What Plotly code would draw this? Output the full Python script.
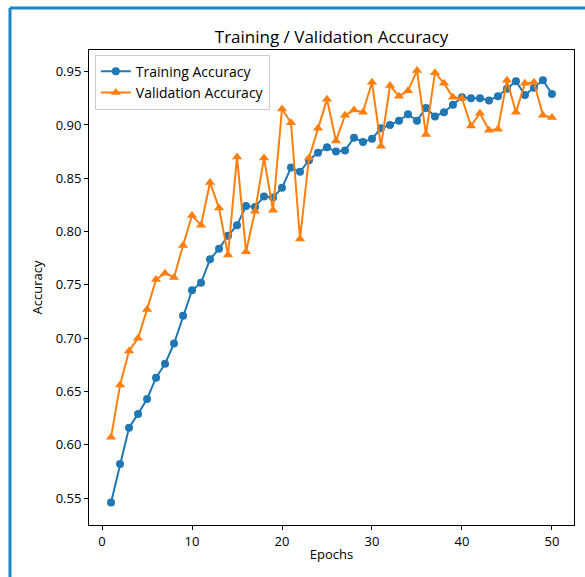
import plotly.graph_objects as go

epochs = list(range(1, 51))
train_acc = [0.546, 0.582, 0.616, 0.629, 0.643, 0.663, 0.676, 0.695, 0.721, 0.745,
             0.752, 0.774, 0.784, 0.796, 0.806, 0.824, 0.823, 0.833, 0.832, 0.841,
             0.860, 0.856, 0.867, 0.874, 0.879, 0.875, 0.876, 0.888, 0.884, 0.887,
             0.897, 0.900, 0.904, 0.910, 0.904, 0.916, 0.908, 0.912, 0.919, 0.926,
             0.925, 0.925, 0.923, 0.927, 0.934, 0.941, 0.928, 0.935, 0.942, 0.929]
val_acc = [0.607, 0.656, 0.688, 0.700, 0.727, 0.755, 0.761, 0.757, 0.787, 0.815,
           0.806, 0.846, 0.822, 0.778, 0.870, 0.781, 0.819, 0.869, 0.820, 0.915,
           0.902, 0.793, 0.869, 0.897, 0.924, 0.885, 0.909, 0.914, 0.912, 0.940,
           0.880, 0.937, 0.927, 0.932, 0.951, 0.891, 0.949, 0.939, 0.926, 0.925,
           0.899, 0.911, 0.895, 0.896, 0.942, 0.912, 0.939, 0.940, 0.909, 0.907]
x_ticks = [0, 10, 20, 30, 40, 50]
y_ticks = [0.55, 0.60, 0.65, 0.70, 0.75, 0.80, 0.85, 0.90, 0.95]

FONT = "Open Sans"

fig = go.Figure()
fig.add_trace(go.Scatter(x=epochs, y=train_acc, mode="lines+markers",
                         name="Training Accuracy",
                         line=dict(color="#1f77b4", width=2),
                         marker=dict(symbol="circle", size=8, color="#1f77b4")))
fig.add_trace(go.Scatter(x=epochs, y=val_acc, mode="lines+markers",
                         name="Validation Accuracy",
                         line=dict(color="#ff7f0e", width=2),
                         marker=dict(symbol="triangle-up", size=9, color="#ff7f0e")))

L, R, T, B = 89, 11, 50, 52
W, H = 585, 577
pw, ph = W - L - R, H - T - B

def px(x):
    return (x - L) / pw

def py(y):
    return (H - B - y) / ph

frame_color = "#1a86c8"
shapes = [
    dict(type="line", xref="paper", yref="paper", x0=px(10), x1=px(10),
         y0=py(8), y1=py(H + 5), line=dict(color=frame_color, width=3)),
    dict(type="line", xref="paper", yref="paper", x0=px(10), x1=px(W + 5),
         y0=py(8), y1=py(8), line=dict(color=frame_color, width=3)),
]

fig.update_layout(
    width=W, height=H,
    margin=dict(l=L, r=R, t=T, b=B),
    paper_bgcolor="white", plot_bgcolor="white",
    font=dict(family=FONT, size=12, color="black"),
    title=dict(text="Training / Validation Accuracy", x=(L + pw / 2) / W,
               xanchor="center", y=1 - 37 / H, yanchor="middle",
               font=dict(family=FONT, size=17, color="black")),
    shapes=shapes,
    showlegend=True,
    legend=dict(x=0.012, y=0.99, xanchor="left", yanchor="top",
                bgcolor="rgba(255,255,255,0.8)", bordercolor="#cccccc",
                borderwidth=1, font=dict(family=FONT, size=14, color="black"),
                tracegroupgap=0, itemwidth=30),
    xaxis=dict(range=[-1.45, 52.45], tickvals=x_ticks, ticks="outside",
               ticklen=4, tickcolor="black", showline=True, linecolor="black",
               linewidth=1, mirror=True, showgrid=False, zeroline=False,
               title=dict(text="Epochs", font=dict(family=FONT, size=13), standoff=1),
               tickfont=dict(family=FONT, size=13)),
    yaxis=dict(range=[0.5248, 0.9703], tickvals=y_ticks, tickformat=".2f",
               ticks="outside", ticklen=4, tickcolor="black", showline=True,
               linecolor="black", linewidth=1, mirror=True, showgrid=False,
               zeroline=False,
               title=dict(text="Accuracy", font=dict(family=FONT, size=13), standoff=10),
               tickfont=dict(family=FONT, size=13)),
)

fig.write_html("out.html")
